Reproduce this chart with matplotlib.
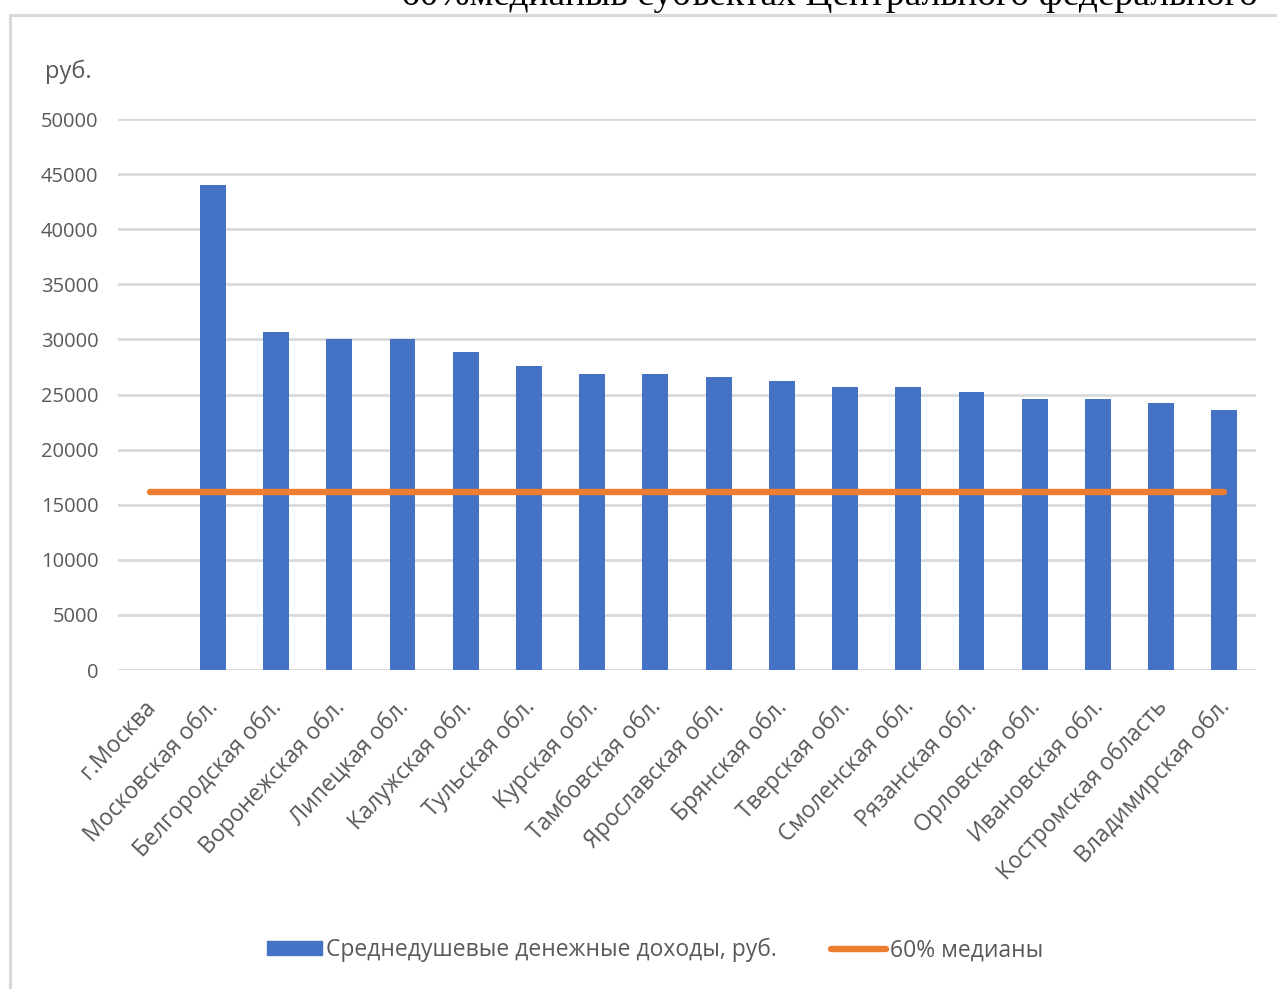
import matplotlib
matplotlib.use("Agg")
import matplotlib.pyplot as plt
from matplotlib.patches import Rectangle
from matplotlib.lines import Line2D
import matplotlib.transforms as mtrans
import numpy as np

categories = ["г.Москва", "Московская обл.", "Белгородская обл.", "Воронежская обл.",
              "Липецкая обл.", "Калужская обл.", "Тульская обл.", "Курская обл.",
              "Тамбовская обл.", "Ярославская обл.", "Брянская обл.", "Тверская обл.",
              "Смоленская обл.", "Рязанская обл.", "Орловская обл.", "Ивановская обл.",
              "Костромская область", "Владимирская обл."]
income = [0, 44000, 30700, 30000, 30000, 28900, 27600, 26900, 26900, 26600,
          26200, 25700, 25700, 25200, 24600, 24600, 24200, 23600]
median60 = [16150] * len(categories)
yticks = [0, 5000, 10000, 15000, 20000, 25000, 30000, 35000, 40000, 45000, 50000]

W, H = 1277, 989
fig = plt.figure(figsize=(W / 100, H / 100), dpi=100)
fig.patch.set_facecolor("white")

def fx(px):
    return px / W

def fy(py):
    return 1 - py / H

# outer chart border (partially cut)
fig.patches.append(Rectangle((fx(10), fy(1010)), fx(1300) - fx(10), fy(15) - fy(1010),
                             transform=fig.transFigure, fill=False,
                             edgecolor="#D9D9D9", linewidth=2.2, zorder=0))

# cut-off caption above chart
fig.text(fx(1258), fy(5), "60%медианыв субъектах Центрального федерального",
         ha="right", va="baseline", fontsize=27, family="Liberation Serif", color="black")

ax = fig.add_axes([fx(118), fy(670), fx(1256) - fx(118), fy(119) - fy(670)])
x = np.arange(len(categories))
text_col = "#595959"
font = "Open Sans"

ax.bar(x, income, width=0.41, color="#4472C4", zorder=3,
       label="Среднедушевые денежные доходы, руб.")
ax.plot(x, median60, color="#ED7D31", linewidth=4.6, solid_capstyle="round", zorder=4,
        label="60% медианы")

ax.set_xlim(-0.5, len(categories) - 0.5)
ax.set_ylim(0, 50000)
ax.set_yticks(yticks)
ax.set_yticklabels([str(v) for v in yticks], fontsize=14.5, color=text_col, family=font)
ax.yaxis.grid(True, color="#D9D9D9", linewidth=2.0, zorder=0)
ax.set_axisbelow(True)
for s in ax.spines.values():
    s.set_visible(False)
ax.tick_params(axis="y", length=0, pad=14)
ax.tick_params(axis="x", length=0, pad=24)

ax.set_xticks(x)
ax.set_xticklabels(categories, rotation=47, ha="right", va="center", rotation_mode="anchor",
                   fontsize=16.5, color=text_col, family=font)
for lbl in ax.get_xticklabels():
    lbl.set_transform(lbl.get_transform() + mtrans.ScaledTranslation(0.02, 0.0, fig.dpi_scale_trans))

fig.text(fx(68), fy(72), "руб.", ha="center", va="center", fontsize=17,
         color=text_col, family=font)

handles = [Rectangle((0, 0), 1, 1, color="#4472C4"),
           Line2D([0], [0], color="#ED7D31", linewidth=4.6, solid_capstyle="round")]
leg = fig.legend(handles, ["Среднедушевые денежные доходы, руб.", "60% медианы"],
                 loc="center", bbox_to_anchor=(fx(655), fy(950)), ncol=2, frameon=False,
                 prop={"family": font, "size": 16.5}, handlelength=2.4, handleheight=0.55,
                 handletextpad=0.15, columnspacing=2.4, labelcolor=text_col)

fig.savefig("out.png", dpi=100, facecolor="white")
